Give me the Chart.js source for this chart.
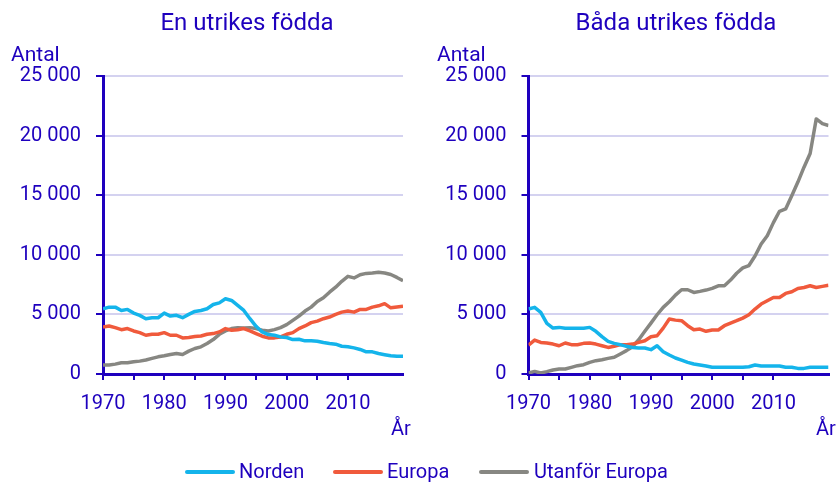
<!DOCTYPE html>
<html>
<head>
<meta charset="utf-8">
<script src="https://cdn.jsdelivr.net/npm/chart.js@4.4.1/dist/chart.umd.min.js"></script>
<style>
body { margin:0; background:#fff; font-family: Roboto, sans-serif; color:#1e00be; }
#wrap { position:relative; width:840px; height:483px; overflow:hidden; }
canvas { position:absolute; top:0; }
.txt { position:absolute; white-space:nowrap; color:#1e00be; }
.titel { font-size:24px; line-height:24px; width:300px; text-align:center; top:10px; }
.antal { font-size:21px; line-height:21px; top:44px; }
.ar { font-size:20px; line-height:20px; top:418px; }
.leg { font-size:20px; line-height:20px; top:461px; }
.legline { position:absolute; width:50px; height:4px; top:470px; border-radius:2px; }
</style>
</head>
<body>
<div id="wrap">
  <canvas id="chartEn" width="420" height="483" style="left:0"></canvas>
  <canvas id="chartBada" width="420" height="483" style="left:420px"></canvas>

  <div class="txt titel" style="left:97px">En utrikes födda</div>
  <div class="txt titel" style="left:526px">Båda utrikes födda</div>
  <div class="txt antal" style="left:11px">Antal</div>
  <div class="txt antal" style="left:437px">Antal</div>
  <div class="txt ar" style="left:391px">År</div>
  <div class="txt ar" style="left:816px">År</div>

  <div class="legline" style="left:185px;background:#14b4eb"></div>
  <div class="txt leg" style="left:239px">Norden</div>
  <div class="legline" style="left:333px;background:#f05a3c"></div>
  <div class="txt leg" style="left:387px">Europa</div>
  <div class="legline" style="left:479px;background:#878782"></div>
  <div class="txt leg" style="left:534px">Utanför Europa</div>
</div>

<script>
var BLA = '#1e00be';
var GRID = '#d4d2f0';

var ar = [];
for (var i = 1970; i <= 2019; i++) { ar.push(i); }

// en förälder utrikes född
var en_norden = [
  5470, 5610, 5610, 5330, 5420, 5110, 4920, 4640, 4720, 4720,
  5110, 4860, 4920, 4720, 5000, 5250, 5330, 5470, 5830, 5970,
  6310, 6170, 5750, 5330, 4640, 4000, 3530, 3310, 3250, 3110,
  3060, 2890, 2920, 2780, 2780, 2750, 2640, 2560, 2500, 2330,
  2280, 2190, 2060, 1860, 1860, 1720, 1620, 1530, 1480, 1480
];
var en_europa = [
  3940, 4030, 3890, 3720, 3810, 3610, 3470, 3250, 3330, 3330,
  3470, 3250, 3250, 3030, 3060, 3140, 3190, 3330, 3390, 3530,
  3810, 3670, 3720, 3810, 3610, 3390, 3170, 3030, 3030, 3110,
  3330, 3470, 3810, 4030, 4310, 4440, 4640, 4780, 5000, 5190,
  5280, 5190, 5420, 5420, 5610, 5720, 5900, 5550, 5620, 5680
];
var en_utanfor = [
  750, 750, 830, 940, 940, 1030, 1080, 1170, 1310, 1440,
  1530, 1640, 1720, 1640, 1920, 2140, 2280, 2560, 2890, 3330,
  3610, 3810, 3890, 3860, 3890, 3810, 3670, 3610, 3720, 3890,
  4140, 4500, 4860, 5280, 5610, 6080, 6390, 6860, 7280, 7780,
  8190, 8060, 8330, 8440, 8470, 8530, 8470, 8350, 8100, 7830
];

// båda föräldrarna utrikes födda
var bada_norden = [
  5450, 5590, 5170, 4250, 3850, 3910, 3830, 3830, 3830, 3830,
  3910, 3580, 3130, 2740, 2570, 2460, 2320, 2230, 2180, 2180,
  2040, 2370, 1870, 1590, 1340, 1170, 980, 840, 750, 670,
  560, 560, 560, 560, 560, 560, 610, 750, 670, 670,
  670, 670, 560, 560, 470, 470, 560, 560, 560, 560
];
var bada_europa = [
  2430, 2850, 2650, 2600, 2510, 2370, 2600, 2460, 2460, 2570,
  2600, 2510, 2370, 2230, 2320, 2460, 2460, 2510, 2650, 2790,
  3130, 3210, 3850, 4610, 4520, 4470, 4050, 3710, 3770, 3580,
  3690, 3690, 4050, 4270, 4470, 4690, 4970, 5450, 5870, 6140,
  6420, 6420, 6760, 6900, 7180, 7260, 7400, 7260, 7350, 7450
];
var bada_utanfor = [
  80, 220, 80, 200, 340, 420, 420, 560, 700, 780,
  980, 1120, 1200, 1310, 1400, 1680, 1960, 2290, 2880, 3580,
  4270, 4970, 5590, 6060, 6620, 7070, 7070, 6840, 6930, 7040,
  7180, 7400, 7400, 7880, 8450, 8900, 9100, 9900, 10900, 11600,
  12700, 13650, 13850, 14950, 16100, 17350, 18500, 21400, 21000, 20850
];

var y_ticks = [0, 5000, 10000, 15000, 20000, 25000];

function tusental(v) {
  return String(v).replace(/\B(?=(\d{3})+(?!\d))/g, ' ');
}

function serie(label, data, color) {
  var pts = [];
  for (var i = 0; i < ar.length; i++) { pts.push({x: ar[i], y: data[i]}); }
  return {
    label: label, data: pts, borderColor: color, backgroundColor: color,
    borderWidth: 3.5, pointRadius: 0, tension: 0, borderJoinStyle: 'round'
  };
}

function rita(id, yWidth, padRight, norden, europa, utanfor) {
  var ctx = document.getElementById(id);
  return new Chart(ctx, {
    type: 'line',
    data: {
      datasets: [
        serie('Norden', norden, '#14b4eb'),
        serie('Europa', europa, '#f05a3c'),
        serie('Utanför Europa', utanfor, '#878782')
      ]
    },
    options: {
      responsive: false, animation: false, devicePixelRatio: 1,
      layout: { padding: { left: 0, right: padRight, top: 76, bottom: 59 } },
      plugins: { legend: { display: false }, tooltip: { enabled: false } },
      scales: {
        x: {
          type: 'linear', min: 1970, max: 2019,
          afterFit: function (s) { s.height = 50; },
          afterBuildTicks: function (s) {
            // bara var femte år, inte max-värdet
            s.ticks = s.ticks.filter(function (t) { return t.value % 5 === 0; });
          },
          border: { display: true, color: BLA, width: 3 },
          grid: { drawOnChartArea: false, drawTicks: true, tickLength: 6, color: BLA, lineWidth: 2 },
          ticks: {
            stepSize: 5, autoSkip: false, maxRotation: 0, padding: 12, color: BLA,
            font: { family: 'Roboto', size: 20 },
            callback: function (v) { return v % 10 === 0 ? String(v) : ''; }
          }
        },
        y: {
          min: 0, max: 25000,
          afterFit: function (s) { s.width = yWidth; },
          afterBuildTicks: function (s) {
            s.ticks = y_ticks.map(function (v) { return {value: v}; });
          },
          border: { display: true, color: BLA, width: 3 },
          grid: { color: GRID, lineWidth: 2, tickColor: BLA, tickLength: 7, drawTicks: true },
          ticks: {
            padding: 15, color: BLA, font: { family: 'Roboto', size: 20 },
            callback: function (v) { return tusental(v); }
          }
        }
      }
    }
  });
}

rita('chartEn', 103, 17, en_norden, en_europa, en_utanfor);
rita('chartBada', 108.5, 11.5, bada_norden, bada_europa, bada_utanfor);
</script>
</body>
</html>
